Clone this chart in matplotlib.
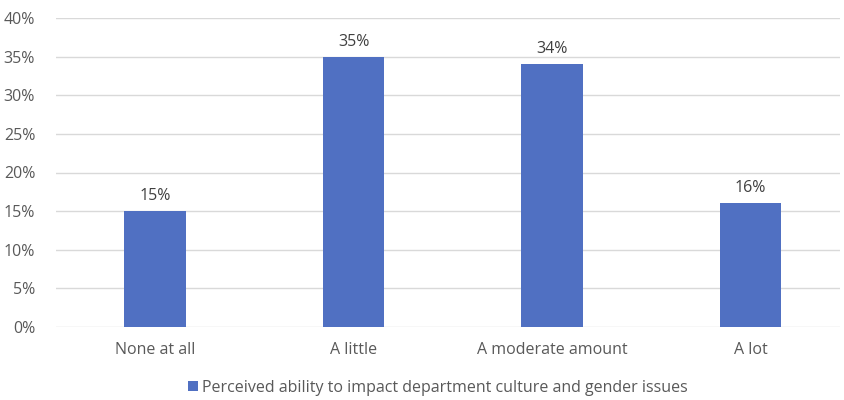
import matplotlib
matplotlib.use('Agg')
import matplotlib.pyplot as plt
from matplotlib.ticker import PercentFormatter

# Survey responses
categories = ['None at all', 'A little', 'A moderate amount', 'A lot']
shares = [15, 35, 34, 16]
series_name = 'Perceived ability to impact department culture and gender issues'

bar_color = '#5070C2'
text_color = '#595959'

plt.rcParams['font.family'] = ['Open Sans', 'DejaVu Sans']

fig = plt.figure(figsize=(8.44, 4.0), dpi=100)
ax = fig.add_axes([56 / 844, 73 / 400, 784 / 844, 309 / 400])

x = range(len(categories))
bars = ax.bar(x, shares, width=0.31, color=bar_color, label=series_name, zorder=3)

for b, v in zip(bars, shares):
    ax.text(b.get_x() + b.get_width() / 2, v + 0.9, f'{v}%', ha='center', va='bottom',
            fontsize=11.5, color='#404040')

ax.set_xlim(-0.5, 3.45)
ax.set_ylim(0, 40)
ax.set_yticks(range(0, 41, 5))
ax.yaxis.set_major_formatter(PercentFormatter(decimals=0))
ax.set_xticks(list(x))
ax.set_xticklabels(categories)
ax.grid(axis='y', color='#D9D9D9', linewidth=1, zorder=0)
for s in ax.spines.values():
    s.set_visible(False)
ax.tick_params(axis='both', length=0, labelsize=11.5, colors=text_color)
ax.tick_params(axis='x', pad=11)
ax.tick_params(axis='y', pad=15)

fig.legend(handles=[bars], labels=[series_name], loc='center', bbox_to_anchor=(438 / 844, 1 - 388 / 400),
           frameon=False, fontsize=11.5, labelcolor=text_color, handlelength=0.6, handleheight=0.6,
           handletextpad=0.3)

fig.savefig('out.png', dpi=100)
